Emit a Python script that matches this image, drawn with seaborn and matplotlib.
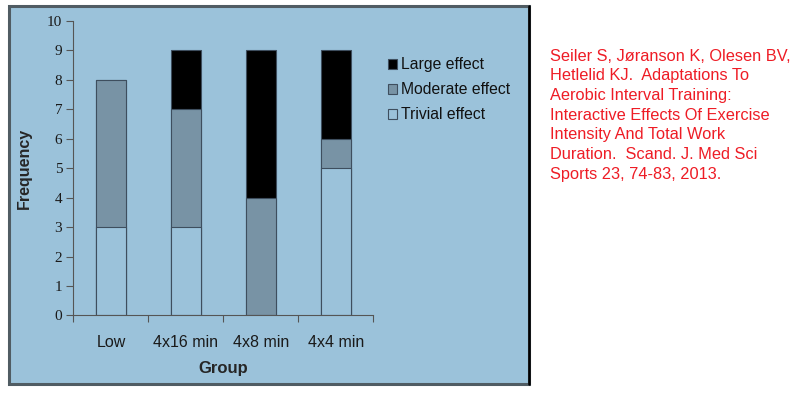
import numpy as np
import pandas as pd
import matplotlib
matplotlib.use("Agg")
import matplotlib.pyplot as plt
import seaborn as sns
from matplotlib.patches import Rectangle, Patch
from matplotlib.lines import Line2D

# Data
groups = ["Low", "4x16 min", "4x8 min", "4x4 min"]
trivial = [3, 3, 0, 5]
moderate = [5, 4, 4, 1]
large = [0, 2, 5, 3]
citation = ("Seiler S, J\u00f8ranson K, Olesen BV,\n"
            "Hetlelid KJ.  Adaptations To\n"
            "Aerobic Interval Training:\n"
            "Interactive Effects Of Exercise\n"
            "Intensity And Total Work\n"
            "Duration.  Scand. J. Med Sci\n"
            "Sports 23, 74-83, 2013.")

bg = "#9BC2DA"
mod_col = "#7893A5"
edge = "#3E4E5E"

df = pd.DataFrame({"Group": groups, "Trivial": trivial,
                   "Moderate": moderate, "Large": large})
df["TM"] = df["Trivial"] + df["Moderate"]
df["Total"] = df["TM"] + df["Large"]

sns.set_theme(style="white")
plt.rcParams["font.family"] = ["Liberation Sans", "DejaVu Sans"]

fig = plt.figure(figsize=(8.02, 3.96), dpi=100)
fig.patch.set_facecolor("white")
# blue panel behind the chart
panel = Rectangle((0.0115, 0.031), 0.648, 0.955, transform=fig.transFigure,
                  facecolor=bg, edgecolor="#505C63", linewidth=2.2, zorder=-5)
fig.add_artist(panel)
fig.add_artist(Line2D([0.6595, 0.6595], [0.031, 0.986], transform=fig.transFigure,
                      color="black", linewidth=1.8, zorder=-4))

ax = fig.add_axes([0.0915, 0.2033, 0.374, 0.7437])
ax.set_facecolor(bg)

sns.barplot(data=df, x="Group", y="Total", color="black", width=0.4,
            edgecolor=edge, linewidth=0.8, saturation=1, ax=ax)
sns.barplot(data=df, x="Group", y="TM", color=mod_col, width=0.4,
            edgecolor=edge, linewidth=0.8, saturation=1, ax=ax)
sns.barplot(data=df[df["Trivial"] > 0], x="Group", y="Trivial", color=bg, width=0.4,
            edgecolor=edge, linewidth=0.8, saturation=1, ax=ax, order=groups)

ax.set_ylim(0, 10)
ax.set_xlim(-0.5, 3.5)
ax.set_yticks(range(0, 11))
ax.set_yticklabels([str(i) for i in range(0, 11)], family="Liberation Serif", fontsize=11)
ax.set_xticks(range(len(groups)))
ax.set_xticklabels(groups, fontsize=11.5)
ax.set_xticks(np.arange(-0.5, 4, 1), minor=True)
ax.tick_params(axis="x", which="major", length=0, pad=14, colors="#1A1A1A")
ax.tick_params(axis="x", which="minor", length=5, width=0.8, color="#555555", bottom=True)
ax.tick_params(axis="y", length=5, width=0.8, color="#555555", left=True, pad=3, labelcolor="#1A1A1A")

for s in ["top", "right"]:
    ax.spines[s].set_visible(False)
for s in ["left", "bottom"]:
    ax.spines[s].set_color("#555555")
    ax.spines[s].set_linewidth(0.8)

ax.set_xlabel("Group", fontsize=12, fontweight="bold", labelpad=8)
ax.set_ylabel("Frequency", fontsize=11.5, fontweight="bold", labelpad=11)

handles = [Patch(facecolor="black", edgecolor=edge, linewidth=0.8),
           Patch(facecolor=mod_col, edgecolor=edge, linewidth=0.8),
           Patch(facecolor=bg, edgecolor=edge, linewidth=0.8)]
fig.legend(handles, ["Large effect", "Moderate effect", "Trivial effect"],
           loc="upper left", bbox_to_anchor=(0.474, 0.875), frameon=False,
           fontsize=11.3, handlelength=0.6, handleheight=0.6, handletextpad=0.25,
           labelspacing=0.64, borderpad=0, labelcolor="#111111")

fig.text(0.686, 0.877, citation, color="#EE1C25", fontsize=11.8, va="top", ha="left",
         linespacing=1.39)

fig.savefig("out.png", dpi=100, facecolor="white")
